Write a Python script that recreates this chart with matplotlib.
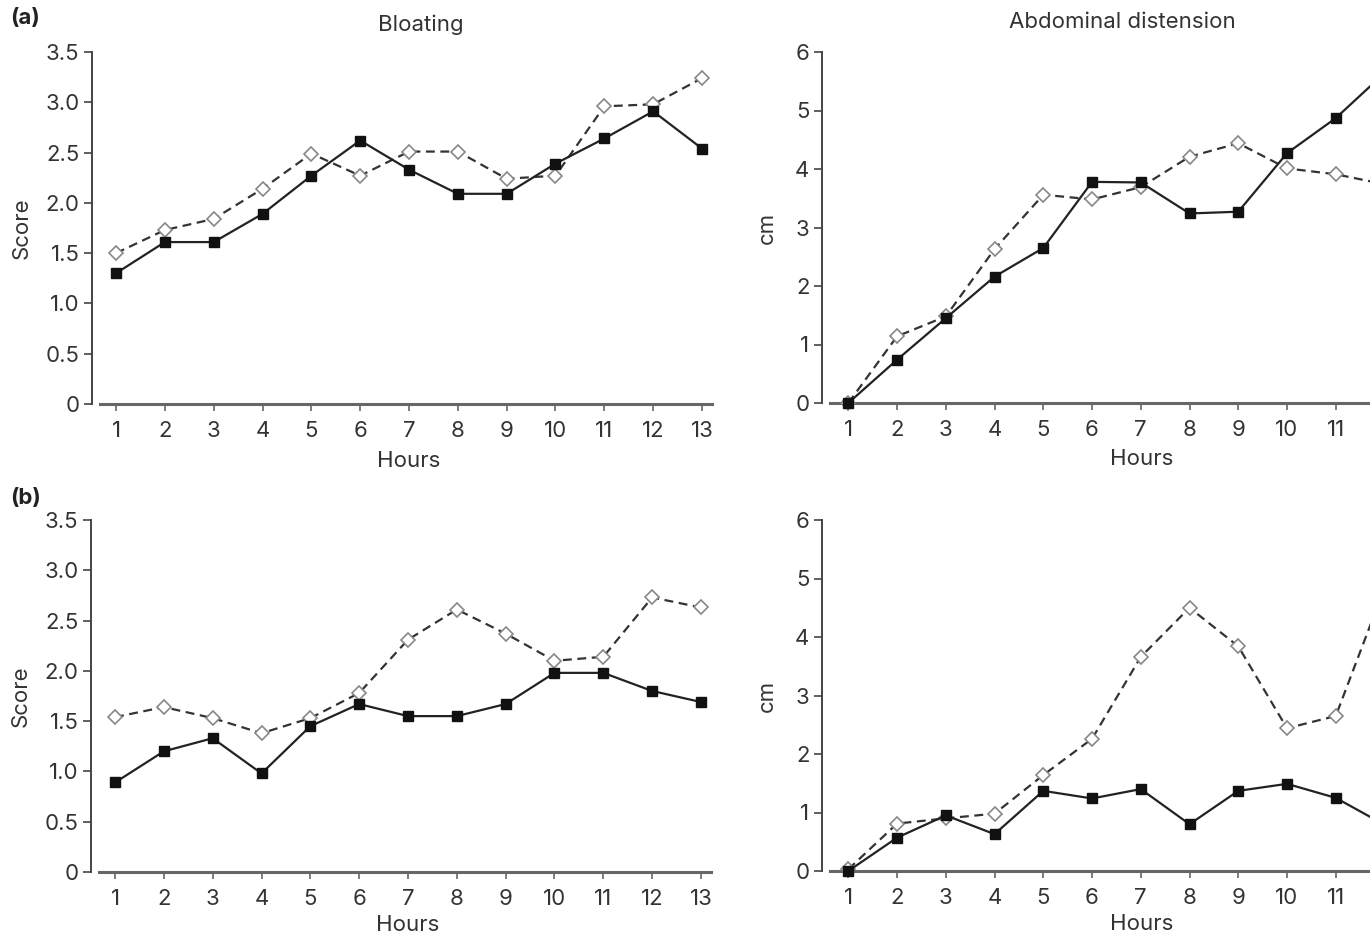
import matplotlib
matplotlib.use("Agg")
import matplotlib.pyplot as plt

plt.rcParams['font.family'] = ['Inter', 'DejaVu Sans']

# hours on the x axis
hours = list(range(1, 14))
hours_cm = list(range(1, 13))  # right panels run off the edge of the figure
visible_hours = list(range(1, 12))

# (a) bloating score
bloat_a_solid = [1.30, 1.61, 1.61, 1.89, 2.27, 2.62, 2.33, 2.09, 2.09, 2.39, 2.64, 2.91, 2.54]
bloat_a_dash = [1.50, 1.73, 1.84, 2.14, 2.49, 2.27, 2.51, 2.51, 2.24, 2.27, 2.96, 2.98, 3.24]
# (a) abdominal distension, cm
dist_a_solid = [0.0, 0.74, 1.45, 2.16, 2.65, 3.78, 3.77, 3.24, 3.27, 4.27, 4.87, 5.64]
dist_a_dash = [0.0, 1.14, 1.48, 2.63, 3.56, 3.48, 3.69, 4.21, 4.44, 4.01, 3.91, 3.74]

# (b) bloating score
bloat_b_solid = [0.89, 1.20, 1.33, 0.98, 1.45, 1.67, 1.55, 1.55, 1.67, 1.98, 1.98, 1.80, 1.69]
bloat_b_dash = [1.54, 1.64, 1.53, 1.38, 1.53, 1.78, 2.31, 2.61, 2.37, 2.10, 2.14, 2.73, 2.63]
# (b) abdominal distension, cm
dist_b_solid = [0.0, 0.57, 0.95, 0.63, 1.37, 1.24, 1.40, 0.80, 1.37, 1.49, 1.25, 0.79]
dist_b_dash = [0.03, 0.81, 0.90, 0.98, 1.64, 2.26, 3.66, 4.50, 3.84, 2.44, 2.65, 4.84]

score_ticks = [0, 0.5, 1.0, 1.5, 2.0, 2.5, 3.0, 3.5]
score_labels = ['0', '0.5', '1.0', '1.5', '2.0', '2.5', '3.0', '3.5']
cm_ticks = [0, 1, 2, 3, 4, 5, 6]

W, H = 1370, 936
fig = plt.figure(figsize=(W / 100, H / 100), dpi=100)
fig.patch.set_facecolor('white')


def rect(x0, y_top, x1, y_bot):
    return [x0 / W, 1 - y_bot / H, (x1 - x0) / W, (y_bot - y_top) / H]


def style_axes(ax, xlim, ylim, xticks, yticks, ylabels, ylabel, xlab_pos, ylab_x):
    ax.set_xlim(*xlim)
    ax.set_ylim(*ylim)
    for s in ['top', 'right']:
        ax.spines[s].set_visible(False)
    ax.spines['left'].set_color('#444444')
    ax.spines['left'].set_linewidth(1.4)
    ax.spines['bottom'].set_color('#666666')
    ax.spines['bottom'].set_linewidth(2.2)
    ax.spines['bottom'].set_bounds(xlim[0] + 0.17, xlim[1])
    ax.set_xticks(xticks)
    ax.set_xticklabels([str(h) for h in xticks])
    ax.set_yticks(yticks)
    ax.set_yticklabels(ylabels)
    ax.tick_params(axis='y', length=6, width=1.2, color='#444444', pad=3,
                   labelsize=16, labelcolor='#333333')
    ax.tick_params(axis='x', length=5, width=1.2, color='#666666', pad=7.5,
                   labelsize=16, labelcolor='#333333')
    ax.set_xlabel('Hours', fontsize=16, color='#333333')
    ax.xaxis.set_label_coords(*xlab_pos)
    ax.set_ylabel(ylabel, fontsize=16, color='#333333')
    ax.yaxis.set_label_coords(ylab_x, 0.5)
    ax.patch.set_alpha(0)


def draw_lines(ax, x, solid, dash):
    ax.plot(x[:len(dash)], dash, linestyle=(0, (4, 2.5)), color='#333333', lw=1.6,
            marker='D', ms=6.8, mfc='white', mec='#888888', mew=1.2, clip_on=False, zorder=3)
    ax.plot(x[:len(solid)], solid, linestyle='-', color='#222222', lw=1.6,
            marker='s', ms=7, mfc='#111111', mec='#111111', clip_on=False, zorder=4)


# top left: (a) bloating
ax1 = fig.add_axes(rect(92, 52, 712, 404))
style_axes(ax1, (0.508, 13.205), (0, 3.5), hours, score_ticks, score_labels, 'Score',
           (0.51, -0.133), -0.098)
draw_lines(ax1, hours, bloat_a_solid, bloat_a_dash)

# top right: (a) abdominal distension
ax2 = fig.add_axes(rect(822, 52, 1443, 403))
style_axes(ax2, (0.46, 13.2), (0, 6), visible_hours, cm_ticks, [str(t) for t in cm_ticks], 'cm',
           (0.514, -0.13), -0.072)
draw_lines(ax2, hours_cm, dist_a_solid, dist_a_dash)

# bottom left: (b) bloating
ax3 = fig.add_axes(rect(91, 520, 711, 872))
style_axes(ax3, (0.508, 13.205), (0, 3.5), hours, score_ticks, score_labels, 'Score',
           (0.51, -0.122), -0.098)
draw_lines(ax3, hours, bloat_b_solid, bloat_b_dash)

# bottom right: (b) abdominal distension
ax4 = fig.add_axes(rect(822, 520, 1443, 871))
style_axes(ax4, (0.46, 13.2), (0, 6), visible_hours, cm_ticks, [str(t) for t in cm_ticks], 'cm',
           (0.514, -0.122), -0.072)
draw_lines(ax4, hours_cm, dist_b_solid, dist_b_dash)

# titles and panel letters
fig.text(421 / W, 1 - 25 / H, 'Bloating', ha='center', va='center', fontsize=16, color='#333333')
fig.text(1122 / W, 1 - 22 / H, 'Abdominal distension', ha='center', va='center', fontsize=16, color='#333333')
fig.text(10 / W, 1 - 18 / H, '(a)', ha='left', va='center', fontsize=16, fontweight='bold', color='#222222')
fig.text(10 / W, 1 - 498 / H, '(b)', ha='left', va='center', fontsize=16, fontweight='bold', color='#222222')

fig.savefig('out.png', dpi=100, facecolor='white')
